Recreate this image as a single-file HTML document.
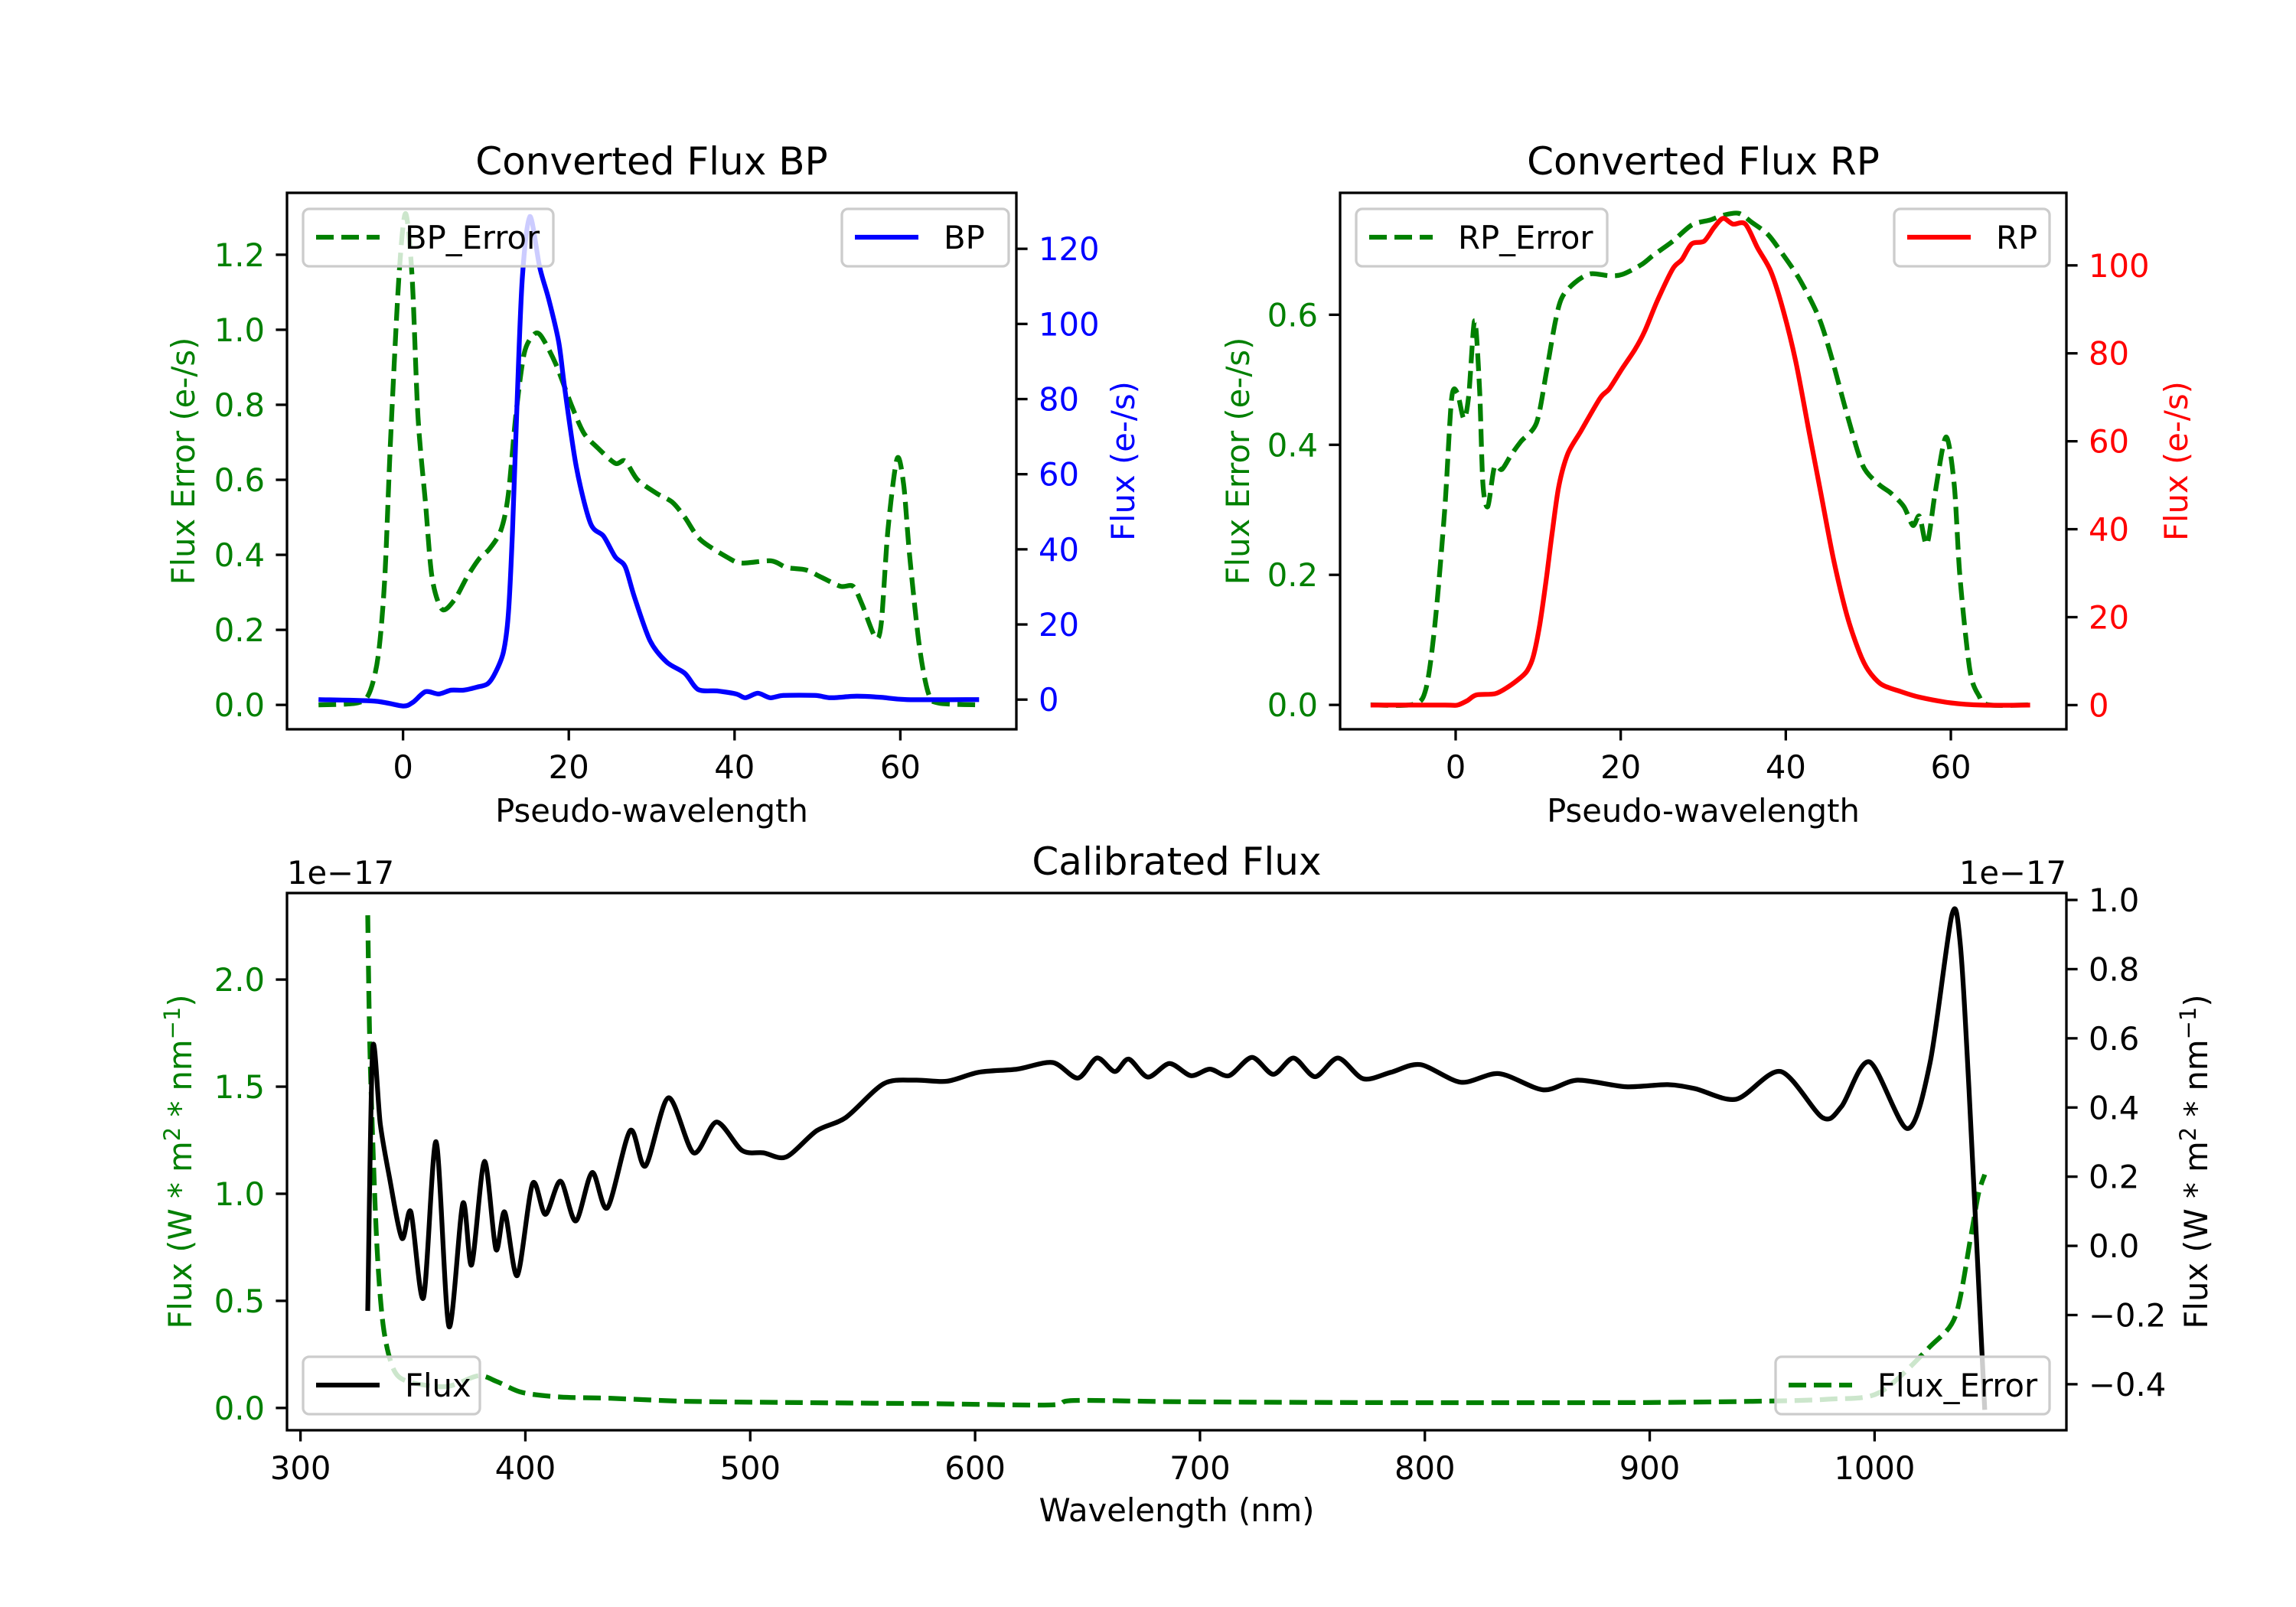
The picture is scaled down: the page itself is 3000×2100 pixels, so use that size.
<!DOCTYPE html>
<html><head><meta charset="utf-8">
<style>
html,body{margin:0;padding:0;background:#fff;}
svg{display:block;font-family:"DejaVu Sans","Liberation Sans",sans-serif;}
</style></head>
<body>
<svg id="fig" xmlns="http://www.w3.org/2000/svg" width="3000" height="2100" viewBox="0 0 3000 2100">
<rect x="0" y="0" width="3000" height="2100" fill="#fff"/>
</svg>
<script>
// ---- BP panel data ----
const bpX = [-10.2,-3.4,0,1.2,2.7,4.3,5.8,7.3,8.9,10.2,11.1,12.1,12.7,13.2,13.8,14.4,15.3,16.5,17.6,18.8,19.5,20.9,22.6,24.2,25.6,26.8,27.9,29.8,31.8,34,35.6,37.9,40.2,41.3,42.8,44.3,45.9,49.7,51.6,54.7,57.7,60.8,69.5];
const bpY = [0,-0.4,-1.7,-0.7,2.1,1.5,2.5,2.5,3.3,4.2,7,12.6,22.5,44.7,81.7,112.6,128.6,115,106.4,95,83,62,47,43.5,38,35.4,27.4,15.7,10,7,2.7,2.3,1.5,0.5,1.7,0.5,1.1,1.1,0.5,0.9,0.6,0,0];
const bpErrX = [-10.2,-5.6,-4.1,-3,-2.2,-1.5,-0.5,0.3,1.1,1.8,2.7,3.5,4.7,6.2,7.7,9.2,10.4,11.8,12.7,13.6,14.6,15.7,16.6,18.4,20.3,21.8,23.4,25.6,26.8,28.3,30.6,32.5,34,35.9,39.4,40.9,44.4,46.3,48.6,50.5,52.8,54.3,55.4,57,57.7,58.5,59.6,60.4,61.1,62.3,63.4,64.6,69.5];
const bpErrY = [0,0.005,0.03,0.13,0.34,0.71,1.14,1.31,1.14,0.77,0.54,0.34,0.255,0.28,0.34,0.39,0.415,0.465,0.56,0.77,0.935,0.985,0.985,0.91,0.8,0.725,0.687,0.644,0.65,0.6,0.564,0.54,0.5,0.44,0.39,0.378,0.384,0.366,0.36,0.34,0.316,0.316,0.267,0.18,0.218,0.465,0.656,0.588,0.403,0.156,0.03,0.005,0];
const bpXTicks = [0,20,40,60];
const bpLTicks = [0.0,0.2,0.4,0.6,0.8,1.0,1.2];
const bpRTicks = [0,20,40,60,80,100,120];
// ---- RP panel data ----
const rpX = [-10.3,-1.3,0.2,1.4,2.5,4.8,6.4,7.9,8.7,9.4,10.2,11,11.7,12.5,13.6,15.2,17.5,18.6,20.2,21.7,22.9,24.4,26.3,27.4,28.6,30.1,31.3,32.4,33.6,35.1,36.6,38.2,39.7,41.2,42.8,44.3,45.8,47.4,48.9,50,51.6,53.9,56.2,60,63.8,69.6];
const rpY = [0,0,0,1,2.3,2.6,4.2,6.3,7.9,11,18.4,28.9,39.3,49.8,57.2,62.4,69.8,71.9,76.6,80.8,85,91.8,99.2,101.3,104.9,105.5,108.6,110.7,109.4,109.4,103.9,98.6,89.7,78.2,62.4,47.7,33,20.5,12.1,7.9,4.7,3.1,1.8,0.5,0,0];
const rpErrX = [-10.3,-5.1,-3.6,-2.5,-1.3,-0.5,0.2,1,1.6,2.3,2.9,3.3,3.9,4.7,5.6,6.7,7.9,9.8,11,12.1,12.9,14.4,16.3,18.6,20.2,22.5,24,26.3,28.6,30.9,32.4,34.3,35.9,37.8,39.3,41.6,43.9,45.4,47.4,49.3,51.2,52.7,54.3,55.4,56.2,57.1,58.1,59.4,60.4,61.1,62.3,63.4,64.6,69.6];
const rpErrY = [0,0.001,0.025,0.125,0.305,0.47,0.48,0.44,0.477,0.591,0.484,0.34,0.305,0.366,0.362,0.384,0.405,0.434,0.512,0.591,0.627,0.649,0.663,0.66,0.662,0.677,0.692,0.713,0.738,0.746,0.753,0.756,0.742,0.724,0.699,0.656,0.599,0.541,0.448,0.369,0.34,0.326,0.305,0.276,0.29,0.247,0.326,0.412,0.34,0.197,0.054,0.014,0,0];
const rpXTicks = [0,20,40,60];
const rpLTicks = [0.0,0.2,0.4,0.6];
const rpRTicks = [0,20,40,60,80,100];
// ---- Calibrated flux data (units of 1e-17) ----
const calX = [329.9,332.1,335.5,339.5,345.1,349.1,354.7,360.3,366,372.2,376.1,381.8,386.9,390.8,396.4,403.2,408.9,415.6,422.4,429.7,436.5,446.6,453.4,463.6,474.8,485,496.3,505.9,516,529.6,542.5,559.4,573.5,587.6,601.7,618.7,634.5,645.7,654.2,662.1,668.3,676.8,686.4,696,704.4,712.9,723.1,732.6,741.6,751.2,761.4,772.6,785,798,816.1,833,852.7,867.9,889.4,908,920.4,938.5,958.2,976.8,985.3,997.7,1014.6,1024.7,1034.3,1038,1042,1049];
const calY = [-0.188,0.568,0.352,0.2,0.022,0.098,-0.15,0.301,-0.233,0.123,-0.055,0.244,-0.01,0.098,-0.086,0.18,0.091,0.187,0.072,0.212,0.11,0.333,0.231,0.428,0.269,0.358,0.276,0.269,0.257,0.333,0.371,0.469,0.479,0.476,0.502,0.511,0.53,0.485,0.543,0.504,0.54,0.488,0.527,0.492,0.511,0.492,0.545,0.496,0.543,0.489,0.543,0.483,0.502,0.524,0.473,0.498,0.451,0.479,0.46,0.466,0.454,0.424,0.504,0.371,0.403,0.532,0.339,0.53,0.955,0.88,0.45,-0.474];
const calErrX = [329.9,331,333.8,336.7,341.2,347.9,364.9,379,387.4,398.7,415.6,438.2,472,522.8,579.2,632.8,644,692,776.6,889.4,945.8,979.6,1002.2,1024.7,1036,1042.8,1046.2,1049];
const calErrY = [2.3,1.62,0.8,0.39,0.185,0.123,0.1,0.15,0.123,0.072,0.051,0.045,0.031,0.025,0.02,0.014,0.035,0.029,0.025,0.025,0.031,0.041,0.072,0.287,0.43,0.8,1.0,1.09];
const calXTicks = [300,400,500,600,700,800,900,1000];
const calLTicks = [0.0,0.5,1.0,1.5,2.0];
const calRTicks = [-0.4,-0.2,0.0,0.2,0.4,0.6,0.8,1.0];

const NS = "http://www.w3.org/2000/svg";
const fig = document.getElementById('fig');
const FS = 41.7;
function el(tag, attrs, parent, text){
  const e = document.createElementNS(NS, tag);
  for (const k in attrs) e.setAttribute(k, attrs[k]);
  if (text !== undefined) e.textContent = text;
  (parent || fig).appendChild(e);
  return e;
}
function fmt(v, dec){ let s = v.toFixed(dec); return s.replace('-', '\u2212'); }
function lin(d0,d1,p0,p1){ return v => p0 + (v-d0)/(d1-d0)*(p1-p0); }
// smooth path through points (Catmull-Rom -> cubic Bezier, mild tension)
function pathD(xs, ys, sx, sy){
  const P = xs.map((x,i)=>[sx(x), sy(ys[i])]);
  let d = 'M'+P[0][0].toFixed(1)+','+P[0][1].toFixed(1);
  const k = 1/7;
  for (let i=0;i<P.length-1;i++){
    const p0 = P[Math.max(0,i-1)], p1 = P[i], p2 = P[i+1], p3 = P[Math.min(P.length-1,i+2)];
    const c1 = [p1[0]+(p2[0]-p0[0])*k, p1[1]+(p2[1]-p0[1])*k];
    const c2 = [p2[0]-(p3[0]-p1[0])*k, p2[1]-(p3[1]-p1[1])*k];
    d += 'C'+c1[0].toFixed(1)+','+c1[1].toFixed(1)+' '+c2[0].toFixed(1)+','+c2[1].toFixed(1)+' '+p2[0].toFixed(1)+','+p2[1].toFixed(1);
  }
  return d;
}

function panel(cfg){
  const g = el('g', {});
  
  
  const {L,R,T,B} = cfg;
  const sx = lin(cfg.xlim[0], cfg.xlim[1], L, R);
  const syL = lin(cfg.ylimL[0], cfg.ylimL[1], B, T);
  const syR = lin(cfg.ylimR[0], cfg.ylimR[1], B, T);
  const clipId = 'clip-' + cfg.name;
  const cp = el('clipPath', {id: clipId}, g);
  el('rect', {x:L, y:T, width:R-L, height:B-T}, cp);
  const l1 = el('path', {d: pathD(cfg.lx, cfg.ly, sx, syL), fill:'none', stroke:cfg.lcol, 'stroke-width':6.25, 'stroke-dasharray':'23,10', 'clip-path':'url(#'+clipId+')'}, g);
  
  
  const l2 = el('path', {d: pathD(cfg.rx, cfg.ry, sx, syR), fill:'none', stroke:cfg.rcol, 'stroke-width':6.25, 'stroke-linejoin':'round', 'clip-path':'url(#'+clipId+')'}, g);
  
  
  el('rect', {x:L, y:T, width:R-L, height:B-T, fill:'none', stroke:'#000', 'stroke-width':3.3}, g);
  cfg.xticks.forEach(v => {
    const x = sx(v);
    el('line', {x1:x, x2:x, y1:B, y2:B+14.6, stroke:'#000', 'stroke-width':3.3}, g);
    const t = el('text', {x:x, y:B+64, 'font-size':FS, 'text-anchor':'middle', fill:'#000'}, g, fmt(v,0));
    
    
  });
  cfg.lticks.forEach(v => {
    const y = syL(v);
    el('line', {x1:L, x2:L-14.6, y1:y, y2:y, stroke:'#000', 'stroke-width':3.3}, g);
    const t = el('text', {x:L-29, y:y+15, 'font-size':FS, 'text-anchor':'end', fill:cfg.lcol}, g, fmt(v,cfg.ldec));
    
    
  });
  cfg.rticks.forEach(v => {
    const y = syR(v);
    el('line', {x1:R, x2:R+14.6, y1:y, y2:y, stroke:'#000', 'stroke-width':3.3}, g);
    const t = el('text', {x:R+29, y:y+15, 'font-size':FS, 'text-anchor':'start', fill:cfg.rtcol}, g, fmt(v,cfg.rdec));
    
    
  });
  const tt = el('text', {x:(L+R)/2, y:T-24, 'font-size':50, 'text-anchor':'middle', fill:'#000'}, g, cfg.title);
  
  
  const xl = el('text', {x:(L+R)/2, y:cfg.xlabY, 'font-size':FS, 'text-anchor':'middle', fill:'#000'}, g, cfg.xlab);
  
  
  const ylY = (T+B)/2;
  const yl = el('text', {x:cfg.ylabLX, y:ylY, 'font-size':FS, 'text-anchor':'middle', fill:cfg.lcol, transform:'rotate(-90 '+cfg.ylabLX+' '+ylY+')'}, g);
  cfg.ylabL(yl);
  
  
  const yr = el('text', {x:cfg.ylabRX, y:ylY, 'font-size':FS, 'text-anchor':'middle', fill:cfg.rtcol, transform:'rotate(-90 '+cfg.ylabRX+' '+ylY+')'}, g);
  cfg.ylabR(yr);
  
  
  cfg.legends.forEach(lg => {
    const lgG = el('g', {}, g);
    
    
    el('rect', {x:lg.x, y:lg.y, width:lg.w, height:75, rx:8, fill:'#fff', 'fill-opacity':0.8, stroke:'#ccc', 'stroke-width':3.3}, lgG);
    el('line', {x1:lg.x+17, x2:lg.x+100, y1:lg.y+37, y2:lg.y+37, stroke:lg.col, 'stroke-width':6.25, 'stroke-dasharray':lg.dash?'23,10':'none'}, lgG);
    el('text', {x:lg.x+133, y:lg.y+52, 'font-size':FS, fill:'#000'}, lgG, lg.label);
  });
  if (cfg.extra) cfg.extra(g);
}
function unitsLabel(t){
  t.appendChild(document.createTextNode('Flux (W * m'));
  const s1 = document.createElementNS(NS,'tspan'); s1.setAttribute('font-size','29'); s1.setAttribute('dy','-15'); s1.textContent='2'; t.appendChild(s1);
  const s2 = document.createElementNS(NS,'tspan'); s2.setAttribute('dy','15'); s2.textContent=' * nm'; t.appendChild(s2);
  const s3 = document.createElementNS(NS,'tspan'); s3.setAttribute('font-size','29'); s3.setAttribute('dy','-15'); s3.textContent='\u22121'; t.appendChild(s3);
  const s4 = document.createElementNS(NS,'tspan'); s4.setAttribute('dy','15'); s4.textContent=')'; t.appendChild(s4);
}

panel({name:'bp-panel', L:375, R:1328, T:252, B:953, xlim:[-14,74], ylimL:[-0.065,1.365], ylimR:[-7.9,134.9],
  lx:bpErrX, ly:bpErrY, lcol:'#008000', lname:'bp-error', rx:bpX, ry:bpY, rcol:'#0000ff', rtcol:'#0000ff', rname:'bp',
  xticks:bpXTicks, lticks:bpLTicks, rticks:bpRTicks, ldec:1, rdec:0, title:'Converted Flux BP', xlab:'Pseudo-wavelength', xlabY:1074,
  ylabLX:254, ylabRX:1482, ylabL:t=>{t.textContent='Flux Error (e-/s)';}, ylabR:t=>{t.textContent='Flux (e-/s)';},
  legends:[{x:396,y:273,w:327,label:'BP_Error',col:'#008000',dash:true},{x:1100,y:273,w:218,label:'BP',col:'#0000ff',dash:false}]});
panel({name:'rp-panel', L:1751, R:2700, T:252, B:953, xlim:[-14,74], ylimL:[-0.0375,0.7875], ylimR:[-5.5,116.5],
  lx:rpErrX, ly:rpErrY, lcol:'#008000', lname:'rp-error', rx:rpX, ry:rpY, rcol:'#ff0000', rtcol:'#ff0000', rname:'rp',
  xticks:rpXTicks, lticks:rpLTicks, rticks:rpRTicks, ldec:1, rdec:0, title:'Converted Flux RP', xlab:'Pseudo-wavelength', xlabY:1074,
  ylabLX:1632, ylabRX:2858, ylabL:t=>{t.textContent='Flux Error (e-/s)';}, ylabR:t=>{t.textContent='Flux (e-/s)';},
  legends:[{x:1772,y:273,w:328,label:'RP_Error',col:'#008000',dash:true},{x:2475,y:273,w:203,label:'RP',col:'#ff0000',dash:false}]});
panel({name:'calibrated-panel', L:375, R:2700, T:1167, B:1869, xlim:[294,1085.3], ylimL:[-0.104,2.404], ylimR:[-0.533,1.02],
  lx:calErrX, ly:calErrY, lcol:'#008000', lname:'flux-error', rx:calX, ry:calY, rcol:'#000000', rtcol:'#000000', rname:'flux',
  xticks:calXTicks, lticks:calLTicks, rticks:calRTicks, ldec:1, rdec:1, title:'Calibrated Flux', xlab:'Wavelength (nm)', xlabY:1988,
  ylabLX:250, ylabRX:2884, ylabL:unitsLabel, ylabR:unitsLabel,
  legends:[{x:396,y:1773,w:231,label:'Flux',col:'#000',dash:false},{x:2320,y:1773,w:358,label:'Flux_Error',col:'#008000',dash:true}],
  extra:g=>{
    const a = el('text', {x:375, y:1155, 'font-size':FS, fill:'#000'}, g, '1e\u221217');
    
    
    const b = el('text', {x:2700, y:1155, 'font-size':FS, 'text-anchor':'end', fill:'#000'}, g, '1e\u221217');
    
    
  }});
</script>
</body></html>
